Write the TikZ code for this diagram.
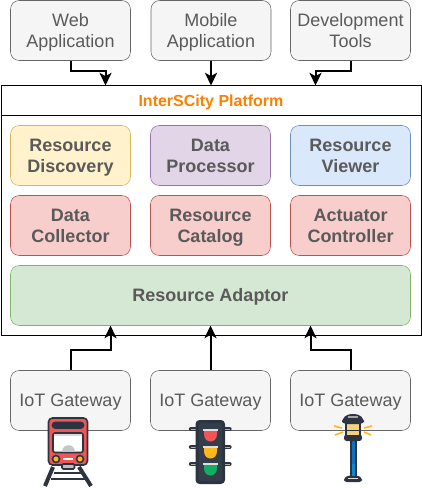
\documentclass[tikz,border=0pt]{standalone}
\usepackage{fontspec}
\setmainfont{Liberation Sans}
\usetikzlibrary{arrows.meta}
\definecolor{boxgray}{HTML}{F5F5F5}
\definecolor{boxgrayline}{HTML}{666666}
\definecolor{txtgray}{HTML}{5A5A5A}
\definecolor{yellowfill}{HTML}{FFF2CC}
\definecolor{yellowline}{HTML}{D6B656}
\definecolor{purplefill}{HTML}{E1D5E7}
\definecolor{purpleline}{HTML}{9673A6}
\definecolor{bluefill}{HTML}{DAE8FC}
\definecolor{blueline}{HTML}{6C8EBF}
\definecolor{redfill}{HTML}{F8CECC}
\definecolor{redline}{HTML}{B85450}
\definecolor{greenfill}{HTML}{D5E8D4}
\definecolor{greenline}{HTML}{82B366}
\definecolor{titleorange}{HTML}{FF8000}
\definecolor{icondark}{HTML}{2B3440}
\definecolor{iconbody}{HTML}{343D4A}
\definecolor{iconred}{HTML}{F25555}
\definecolor{iconyellow}{HTML}{FFB81C}
\definecolor{icongreen}{HTML}{10B060}
\definecolor{iconblue}{HTML}{0A72C0}
\definecolor{iconglass}{HTML}{F5D27A}
\newcommand{\lowstrut}{\rule[-.3\baselineskip]{0pt}{\dimexpr\baselineskip+3pt\relax}}
\newcommand{\twolines}[2]{\lowstrut #1\\\strut #2}
\tikzset{
  x=0.75pt,y=-0.75pt,
  appbox/.style={draw=boxgrayline,fill=boxgray,rounded corners=6.5pt,minimum width=90pt,minimum height=45pt,
    inner sep=0pt,align=center,text=txtgray,font=\fontsize{13.5}{15.75}\selectfont},
  modbox/.style={rounded corners=6.5pt,minimum width=90pt,minimum height=45pt,inner sep=0pt,align=center,
    text=txtgray,font=\fontsize{13.5}{15.75}\selectfont\bfseries},
  flow/.style={draw=black,line width=1.5pt,-{Stealth[length=9.5pt,width=9pt,inset=2.5pt]}},
  iconline/.style={draw=icondark,line width=1.2pt}
}
\begin{document}
\begin{tikzpicture}
\useasboundingbox (0,0) rectangle (421,488);
% platform frame
\node[draw=black,line width=0.75pt,minimum width=315pt,minimum height=187.1pt,anchor=north west,inner sep=0pt] (platform) at (0.5,85.5) {};
\node[draw=black,line width=0.75pt,minimum width=315pt,minimum height=22.5pt,anchor=north west,inner sep=0pt,
  text=titleorange,font=\fontsize{12}{14}\selectfont\bfseries] (title) at (0.5,85.5) {\lowstrut InterSCity Platform};
% applications
\node[appbox] (web) at (70.5,30.5) {\twolines{Web}{Application}};
\node[appbox] (mobile) at (211,30.5) {\twolines{Mobile}{Application}};
\node[appbox] (tools) at (350.5,30.5) {\twolines{Development}{Tools}};
% modules
\node[modbox,draw=yellowline,fill=yellowfill] (discovery) at (70.5,155.5) {\twolines{Resource}{Discovery}};
\node[modbox,draw=purpleline,fill=purplefill] (processor) at (210.5,155.5) {\twolines{Data}{Processor}};
\node[modbox,draw=blueline,fill=bluefill] (viewer) at (350.5,155.5) {\twolines{Resource}{Viewer}};
\node[modbox,draw=redline,fill=redfill] (collector) at (70.5,225.5) {\twolines{Data}{Collector}};
\node[modbox,draw=redline,fill=redfill] (catalog) at (210.5,225.5) {\twolines{Resource}{Catalog}};
\node[modbox,draw=redline,fill=redfill] (actuator) at (350.5,225.5) {\twolines{Actuator}{Controller}};
\node[modbox,draw=greenline,fill=greenfill,minimum width=300pt] (adaptor) at (210.5,295.5) {\lowstrut Resource Adaptor};
% gateways
\node[appbox] (gwa) at (70.5,400.5) {\lowstrut IoT Gateway};
\node[appbox] (gwb) at (210.5,400.5) {\lowstrut IoT Gateway};
\node[appbox] (gwc) at (350.5,400.5) {\lowstrut IoT Gateway};
% connectors
\coordinate (ina) at (105.5,85.5);
\coordinate (inb) at (211,85.5);
\coordinate (inc) at (315.5,85.5);
\coordinate (outa) at (110.5,325.5);
\coordinate (outb) at (210.5,325.5);
\coordinate (outc) at (310.5,325.5);
\draw[flow] (web.south) -- (70.5,71) -- (105.5,71) -- (ina);
\draw[flow] (mobile.south) -- (inb);
\draw[flow] (tools.south) -- (350.5,71) -- (315.5,71) -- (inc);
\draw[flow] (gwa.north) -- (70.5,350) -- (110.5,350) -- (outa);
\draw[flow] (gwb.north) -- (outb);
\draw[flow] (gwc.north) -- (350.5,350) -- (310.5,350) -- (outc);
% train
\draw[icondark,line width=3pt] (53,467) -- (45,486);
\draw[icondark,line width=3pt] (79,467) -- (91,486);
\draw[icondark,line width=1pt] (54,473) -- (82,473) (51,479) -- (85,479);
\draw[iconline,fill=iconred,rounded corners=3pt] (48.5,418) rectangle (87.5,465);
\draw[iconline,fill=icondark,rounded corners=2pt] (52.5,422.5) rectangle (83.5,428);
\draw[iconline,fill=white,rounded corners=1.5pt] (53,433) rectangle (83,452.5);
\fill[gray!45] (61.5,452) .. controls (61.5,443) and (75,443) .. (75,452) -- cycle;
\fill[gray!30] (53.7,433.7) rectangle (82.3,436);
\draw[iconline,fill=iconyellow] (56,459) circle (3.5);
\draw[iconline,fill=iconyellow] (80,459) circle (3.5);
\fill[white] (63,458) rectangle (73,460);
\draw[iconline,fill=gray!50,rounded corners=1pt] (62,464) rectangle (74.5,469);
% traffic light
\foreach \yy in {429,447,464} {
  \draw[icondark,line width=3.2pt,line cap=round] (191,\yy) -- (229.5,\yy);
  \draw[gray!60,line width=0.6pt] (191,\yy) -- (196,\yy);
  \draw[gray!60,line width=0.6pt] (225,\yy) -- (229.5,\yy);
}
\fill[icondark,rounded corners=3pt] (195.5,420) rectangle (225,484);
\fill[iconbody,rounded corners=2pt] (198.5,423) rectangle (222,481);
\foreach \yy/\cc in {431/iconred,448/iconyellow,465/icongreen} {
  \fill[\cc] (204,\yy) -- (217,\yy) -- (217,\yy+3) .. controls (217,\yy+13) and (204,\yy+13) .. (204,\yy+3) -- cycle;
  \draw[gray!25,line width=0.9pt] (203,\yy-1) -- (218,\yy-1);
}
% street lamp
\fill[icondark,rounded corners=2pt] (344,482) -- (344,478) -- (348,475.5) -- (358,475.5) -- (362,478) -- (362,482) -- cycle;
\draw[gray!25,line width=0.5pt] (348,478) -- (358,478);
\fill[icondark] (349.5,440) rectangle (356.5,477);
\fill[iconblue] (351.5,441) rectangle (354.5,476);
\fill[cyan!70!blue] (351.5,464) rectangle (354.5,476);
\fill[icondark,rounded corners=2pt] (344,434.5) rectangle (362,441);
\fill[icondark] (345,422) rectangle (361,436);
\fill[iconglass] (347,424) rectangle (359,429.5);
\fill[iconglass] (347,431) rectangle (359,435);
\fill[icondark,rounded corners=3pt] (342,424) -- (342,419) -- (347.5,414) -- (358.5,414) -- (364,419) -- (364,424) -- cycle;
\fill[gray!70] (348,416) rectangle (358,418);
\draw[iconyellow,line width=1.2pt] (334,426) -- (342,428) (335,435) -- (343,432) (364,428) -- (372,426) (364,432) -- (371,435);
\end{tikzpicture}
\end{document}
